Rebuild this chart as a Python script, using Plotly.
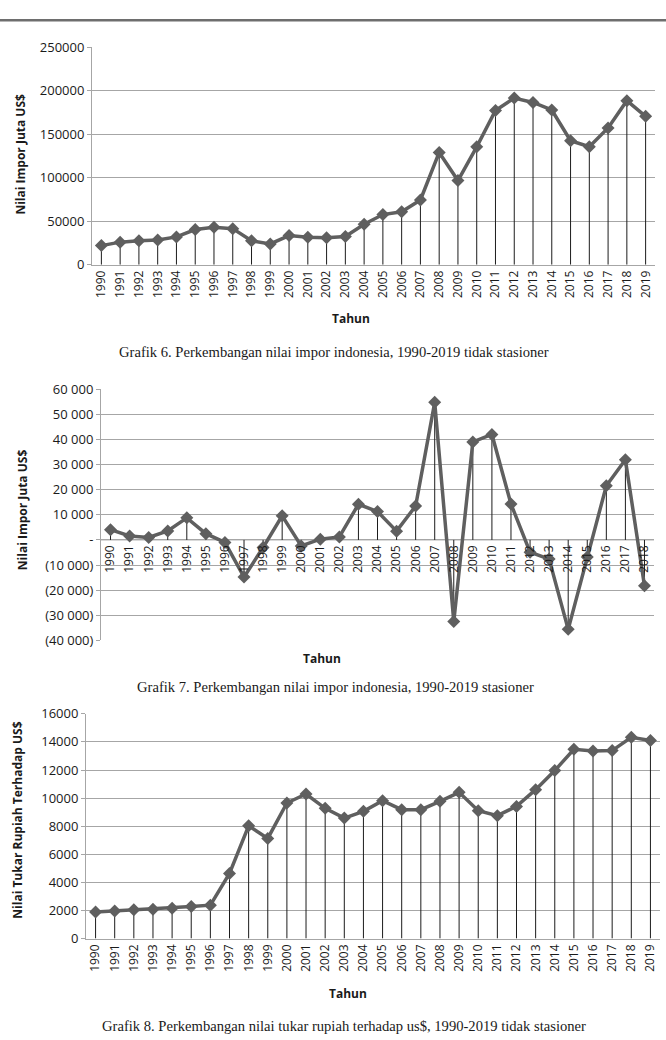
import plotly.graph_objects as go

W, H = 666, 1040
# the photographed page comes out slightly squeezed vertically; positions below
# are taken from the reference and mapped back through this
SY, OY = 0.981, 9.7

tahun = [str(y) for y in range(1990, 2020)]
tahun_g7 = [str(y) for y in range(1990, 2019)]

# Grafik 6: nilai impor (juta US$)
impor = [22000, 26000, 27500, 28500, 32000, 40500, 43000, 41500, 27500, 24000,
         33500, 31500, 31000, 32500, 46500, 57700, 61000, 74500, 129200, 96800,
         135600, 177400, 191700, 186600, 178000, 142700, 135700, 157400, 188700, 170700]

# Grafik 7: selisih nilai impor (stasioner)
impor_diff = [4100, 1600, 1000, 3600, 8800, 2500, -1000, -14800, -3000, 9600,
              -2400, 300, 1200, 14200, 11300, 3500, 13500, 54800, -32500, 39000,
              42000, 14300, -4900, -7600, -35600, -6800, 21600, 31900, -18200]

# Grafik 8: nilai tukar rupiah terhadap US$
kurs = [1900, 1970, 2060, 2090, 2160, 2280, 2380, 4640, 8030, 7130,
        9650, 10290, 9270, 8580, 9060, 9820, 9175, 9175, 9770, 10410,
        9100, 8750, 9410, 10600, 11960, 13480, 13360, 13380, 14330, 14100]

g7_ticks = [60000, 50000, 40000, 30000, 20000, 10000, 0, -10000, -20000, -30000, -40000]
g7_text = ["60 000", "50 000", "40 000", "30 000", "20 000", "10 000", "-",
           "(10 000)", "(20 000)", "(30 000)", "(40 000)"]

LINE = "#5f5f5f"
GRID = "#a6a6a6"
TICKFONT = dict(family="Open Sans", size=13, color="#1a1a1a")
XTICKFONT = dict(family="Open Sans", size=12, color="#1a1a1a")


def px_x(v):
    return v / W


def px_y(v):
    return 1 - ((v - OY) / SY) / H


def drop_xy(cats, vals):
    xs, ys = [], []
    for c, v in zip(cats, vals):
        xs += [c, c, None]
        ys += [0, v, None]
    return xs, ys


fig = go.Figure()

charts = [
    (tahun, impor, "x", "y"),
    (tahun_g7, impor_diff, "x2", "y2"),
    (tahun, kurs, "x3", "y3"),
]
for cats, vals, xa, ya in charts:
    dx, dy = drop_xy(cats, vals)
    fig.add_trace(go.Scatter(x=dx, y=dy, mode="lines", xaxis=xa, yaxis=ya,
                             line=dict(color="#1c1c1c", width=1), hoverinfo="skip"))
    fig.add_trace(go.Scatter(x=cats, y=vals, mode="lines+markers", xaxis=xa, yaxis=ya,
                             line=dict(color=LINE, width=3.5),
                             marker=dict(symbol="diamond", size=10, color=LINE)))

common_y = dict(showgrid=True, gridcolor=GRID, gridwidth=1, showline=True,
                linecolor=GRID, linewidth=1, ticks="outside", ticklen=4,
                tickcolor=GRID, tickfont=TICKFONT, zeroline=False, tickformat="d")
common_x = dict(type="category", showgrid=False, showline=True, linecolor=GRID,
                linewidth=1, ticks="", tickangle=-90, tickfont=XTICKFONT)

fig.update_layout(
    width=W, height=H,
    margin=dict(l=0, r=0, t=0, b=0),
    paper_bgcolor="white", plot_bgcolor="white",
    showlegend=False,
    xaxis=dict(common_x, domain=[px_x(92), px_x(655)], anchor="y",
               range=[-0.5, len(tahun) - 0.5]),
    yaxis=dict(common_y, domain=[px_y(265), px_y(48)], range=[0, 250000],
               tickvals=[0, 50000, 100000, 150000, 200000, 250000], anchor="x"),
    xaxis2=dict(common_x, domain=[px_x(101), px_x(654)], anchor="free",
                position=px_y(539.7), showline=False, ticklabelstandoff=2,
                range=[-0.5, len(tahun_g7) - 0.5]),
    yaxis2=dict(common_y, domain=[px_y(640), px_y(389.3)], range=[-40000, 60000],
                tickvals=g7_ticks, ticktext=g7_text, anchor="x2"),
    xaxis3=dict(common_x, domain=[px_x(86), px_x(660)], anchor="y3",
                range=[-0.5, len(tahun) - 0.5]),
    yaxis3=dict(common_y, domain=[px_y(937.7), px_y(713.3)], range=[0, 16000],
                tickvals=list(range(0, 16001, 2000)), anchor="x3"),
)

# zero line for grafik 7 (category axis crossing)
fig.add_shape(type="line", xref="paper", yref="y2", x0=px_x(101), x1=px_x(654),
              y0=0, y1=0, line=dict(color=GRID, width=1), layer="below")

# top rule
fig.add_shape(type="line", xref="paper", yref="paper", x0=0, x1=1,
              y0=px_y(21), y1=px_y(21), line=dict(color="#6e6e6e", width=2.5))

BOLD = dict(family="Open Sans", size=12, color="#1a1a1a")
SERIF = dict(family="Liberation Serif", size=14.6, color="#1a1a1a")

notes = [
    (21, 155, "<b>Nilai Impor Juta US$</b>", BOLD, -90),
    (22, 510, "<b>Nilai Impor Juta US$</b>", BOLD, -90),
    (18, 820, "<b>Nilai Tukar Rupiah Terhadap US$</b>", BOLD, -90),
    (351, 319, "<b>Tahun</b>", BOLD, 0),
    (322, 658, "<b>Tahun</b>", BOLD, 0),
    (348, 993, "<b>Tahun</b>", BOLD, 0),
    (334, 352, "Grafik 6. Perkembangan nilai impor indonesia, 1990-2019 tidak stasioner", SERIF, 0),
    (335, 687, "Grafik 7. Perkembangan nilai impor indonesia, 1990-2019 stasioner", SERIF, 0),
    (344, 1025, "Grafik 8. Perkembangan nilai tukar rupiah terhadap us$, 1990-2019 tidak stasioner", SERIF, 0),
]
for x, y, t, f, ang in notes:
    fig.add_annotation(x=px_x(x), y=px_y(y), xref="paper", yref="paper", text=t,
                       showarrow=False, font=f, textangle=ang,
                       xanchor="center", yanchor="middle")

fig.write_html(
    "out.html",
    config={"displayModeBar": False},
    post_script="document.body.style.margin='0';"
                "document.documentElement.style.overflow='hidden';"
                "document.body.style.overflow='hidden';",
)
